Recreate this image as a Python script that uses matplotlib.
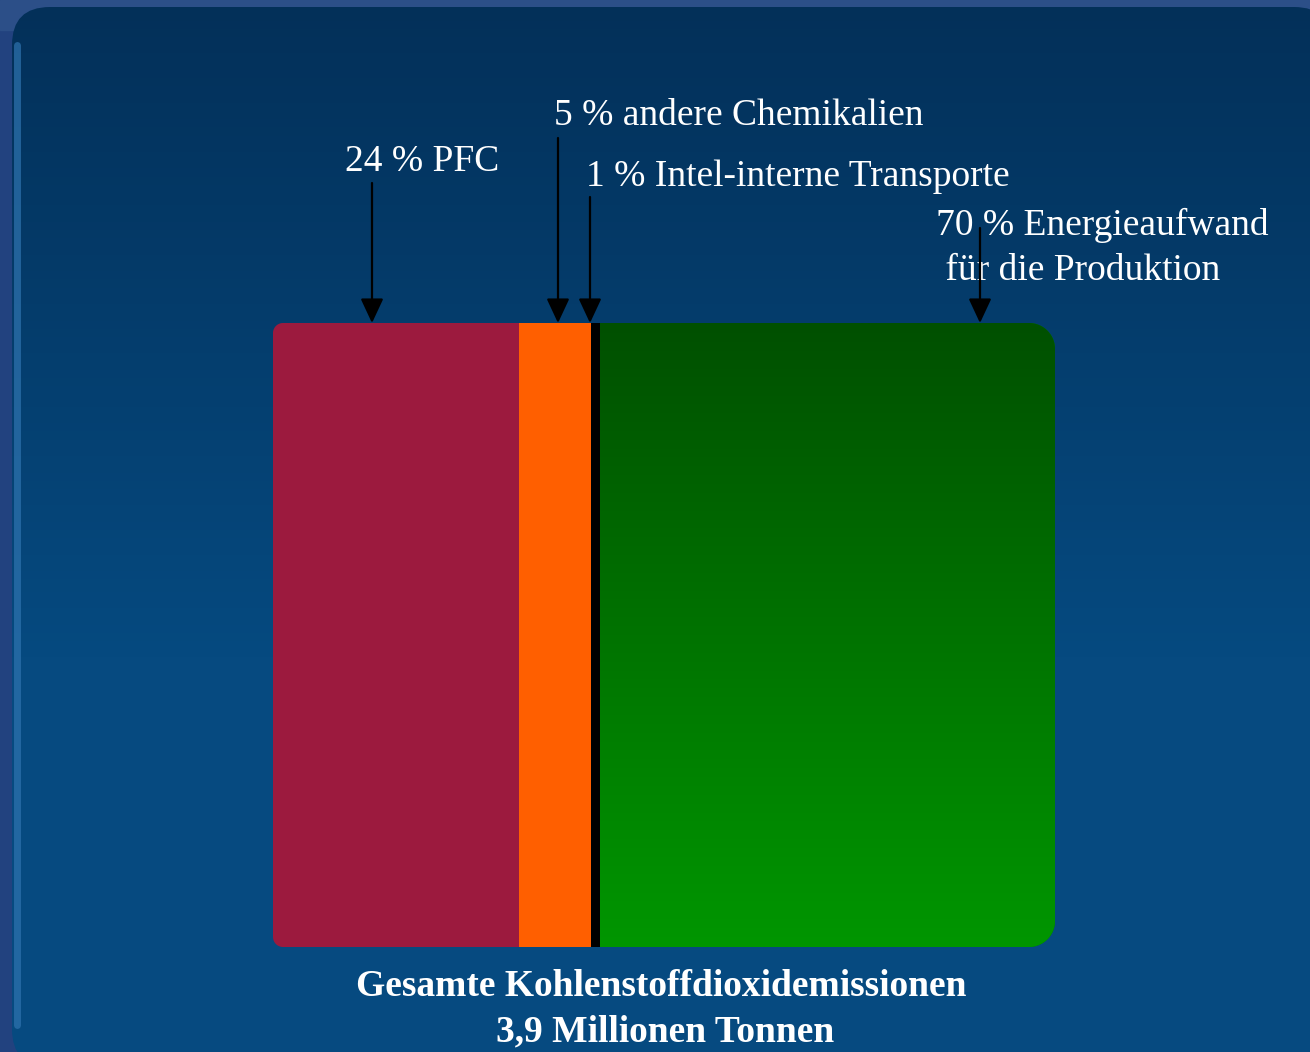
import numpy as np
import matplotlib.pyplot as plt
from matplotlib.path import Path
from matplotlib.patches import PathPatch, FancyBboxPatch

# Data: share labels and the drawn segment widths (% of bar)
labels = ["24 % PFC", "5 % andere Chemikalien", "1 % Intel-interne Transporte",
          "70 % Energieaufwand\n für die Produktion"]
shares = [24, 5, 1, 70]
widths = [31.5, 9.2, 1.1, 58.2]
colors = ["#9c1a3e", "#ff5f00", "#000000", "#007a00"]
title_lines = ["Gesamte Kohlenstoffdioxidemissionen", "3,9 Millionen Tonnen"]

W, H = 1310, 1052
SERIF = ["Liberation Serif", "DejaVu Serif"]


def rounded_path(w_px, h_px, r_left, r_right, n=20):
    """Rounded rectangle in axes fraction coords, radii given in pixels."""
    pts = []

    def arc(cx, cy, r, a0, a1):
        t = np.linspace(np.radians(a0), np.radians(a1), n)
        return [((cx + r * np.cos(a)) / w_px, (cy + r * np.sin(a)) / h_px) for a in t]

    pts += arc(r_left, r_left, r_left, 180, 270)
    pts += arc(w_px - r_right, r_right, r_right, 270, 360)
    pts += arc(w_px - r_right, h_px - r_right, r_right, 0, 90)
    pts += arc(r_left, h_px - r_left, r_left, 90, 180)
    pts.append(pts[0])
    return Path(pts, closed=True)


fig = plt.figure(figsize=(W / 100, H / 100), dpi=100)
fig.patch.set_facecolor("#22427f")

# background axes in pixel coordinates
bg = fig.add_axes([0, 0, 1, 1])
bg.set_xlim(0, W)
bg.set_ylim(H, 0)
bg.axis("off")

# outer frame: lighter strip on top
bg.add_patch(plt.Rectangle((0, 0), W, 30, color="#2c4f88", zorder=0))

# panel with vertical gradient
panel = FancyBboxPatch((12, 7), 1320, 1060, boxstyle="round,pad=0,rounding_size=38",
                       facecolor="none", edgecolor="none", zorder=1)
bg.add_patch(panel)
grad = np.linspace(0, 1, 256).reshape(-1, 1)
top_c = np.array([0x03, 0x30, 0x59]) / 255
bot_c = np.array([0x06, 0x4a, 0x80]) / 255
img = top_c + (bot_c - top_c) * np.clip(grad * 1.6, 0, 1)[..., None]
im = bg.imshow(img.reshape(256, 1, 3), extent=(0, W, H, 0), aspect="auto", zorder=1)
im.set_clip_path(panel)
bg.set_xlim(0, W)
bg.set_ylim(H, 0)
# soft highlight on the panel's left edge
bg.plot([17, 17], [45, 1025], color="#2f74b0", lw=5, alpha=0.7, zorder=2,
        solid_capstyle="round")

# bar axes
bx0, bx1, by0, by1 = 273, 1055, 323, 947
ax = fig.add_axes([bx0 / W, 1 - by1 / H, (bx1 - bx0) / W, (by1 - by0) / H])
ax.set_xlim(0, sum(widths))
ax.set_ylim(0, 1)
ax.axis("off")

clip = PathPatch(rounded_path(bx1 - bx0, by1 - by0, 10, 26), transform=ax.transAxes,
                 facecolor="none", edgecolor="none")
ax.add_patch(clip)

lefts = np.concatenate([[0], np.cumsum(widths)[:-1]])
bars = ax.barh(0.5, widths, left=lefts, height=1, color=colors, linewidth=0, zorder=2)
for b in bars:
    b.set_clip_path(clip)

# green segment gets a dark (top) to light (bottom) gradient
g = np.linspace(0, 1, 256).reshape(-1, 1)
g_top = np.array([0x00, 0x50, 0x00]) / 255
g_bot = np.array([0x00, 0x96, 0x00]) / 255
gimg = (g_top + (g_bot - g_top) * g[..., None]).reshape(256, 1, 3)
gl = lefts[-1]
gi = ax.imshow(gimg, extent=(gl, gl + widths[-1], 0, 1), aspect="auto", zorder=3)
gi.set_clip_path(clip)
ax.set_xlim(0, sum(widths))
ax.set_ylim(0, 1)

# labels and arrows (pixel positions)
txt = dict(color="white", fontsize=27, family=SERIF, va="center", ha="left", zorder=4)
bg.text(345, 162, labels[0], **txt)
bg.text(554, 116, labels[1], **txt)
bg.text(586, 177, labels[2], **txt)
bg.text(936, 248, labels[3], linespacing=1.38, **txt)

arrows = [(372, 183), (558, 138), (590, 197), (980, 228)]
for x, y0 in arrows:
    bg.annotate("", xy=(x, by0), xytext=(x, y0), zorder=5,
                arrowprops=dict(arrowstyle="-|>,head_length=0.75,head_width=0.35",
                                color="black", lw=1.6, shrinkA=0, shrinkB=0,
                                mutation_scale=20))

bg.text(661, 987, title_lines[0], color="white", fontsize=27, fontweight="bold",
        family=SERIF, ha="center", va="center", zorder=4)
bg.text(665, 1032, title_lines[1], color="white", fontsize=27, fontweight="bold",
        family=SERIF, ha="center", va="center", zorder=4)

fig.savefig("out.png", dpi=100, facecolor=fig.get_facecolor())
